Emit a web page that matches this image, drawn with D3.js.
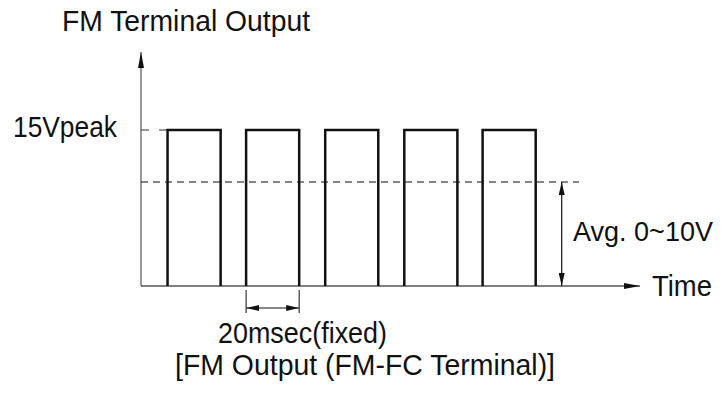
<!DOCTYPE html>
<html>
<head>
<meta charset="utf-8">
<script src="https://cdn.jsdelivr.net/npm/d3@7"></script>
<style>
  body { margin: 0; background: #fff; }
  text { font-family: "Liberation Sans", Arial, sans-serif; font-size: 29px; fill: #111; }
</style>
</head>
<body>
<div id="container-fm"></div>
<script>
// pulse train (time in msec, voltage in V)
let pulseStart = [10, 39.6, 69.4, 99.2, 128.7];
let pulseWidth = 20;
let peakV = 15;
let avgV = 10;
let timeMax = 188;
let voltMax = 22.5;
let avgEnd = 165;
let avgArrowT = 158.5;
let markerFrom = 39.6;
let markerTo = 59.6;

let labelTexts = ["FM Terminal Output", "15Vpeak", "Avg. 0~10V", "Time", "20msec(fixed)", "[FM Output (FM-FC Terminal)]"];

visualizeFM();

function visualizeFM() {
  vis = this;

  vis.W = 721;
  vis.H = 399;
  vis.x0 = 141;
  vis.y0 = 286;

  vis.x = d3.scaleLinear().domain([0, timeMax]).range([vis.x0, 640]);
  vis.y = d3.scaleLinear().domain([0, voltMax]).range([vis.y0, 52]);

  vis.svg = d3.select("#container-fm")
    .append("svg")
    .attr("width", vis.W)
    .attr("height", vis.H);

  //markers
  vis.defs = vis.svg.append("defs");
  vis.defs.append("marker")
    .attr("id", "head")
    .attr("viewBox", "0 0 13 6")
    .attr("refX", 13).attr("refY", 3)
    .attr("markerWidth", 13).attr("markerHeight", 6)
    .attr("markerUnits", "userSpaceOnUse")
    .attr("orient", "auto-start-reverse")
    .append("path").attr("d", "M0,0 L13,3 L0,6 Z").attr("fill", "#111");
  vis.defs.append("marker")
    .attr("id", "headAxis")
    .attr("viewBox", "0 0 16 6")
    .attr("refX", 16).attr("refY", 3)
    .attr("markerWidth", 16).attr("markerHeight", 6)
    .attr("markerUnits", "userSpaceOnUse")
    .attr("orient", "auto")
    .append("path").attr("d", "M0,0 L16,3 L0,6 Z").attr("fill", "#111");

  //axes
  vis.svg.append("line")
    .attr("x1", vis.x(0)).attr("y1", vis.y(0))
    .attr("x2", vis.x(0)).attr("y2", vis.y(voltMax))
    .attr("stroke", "#777").attr("stroke-width", 1.5)
    .attr("marker-end", "url(#headAxis)");
  vis.svg.append("line")
    .attr("x1", vis.x(0)).attr("y1", vis.y(0))
    .attr("x2", vis.x(timeMax)).attr("y2", vis.y(0))
    .attr("stroke", "#555").attr("stroke-width", 1.5)
    .attr("marker-end", "url(#headAxis)");

  //reference lines
  vis.svg.append("line")
    .attr("x1", vis.x(0)).attr("x2", vis.x(pulseStart[0]))
    .attr("y1", vis.y(peakV)).attr("y2", vis.y(peakV))
    .attr("stroke", "#333").attr("stroke-width", 1)
    .attr("stroke-dasharray", "8,10");
  vis.svg.append("line")
    .attr("x1", vis.x(0)).attr("x2", vis.x(avgEnd))
    .attr("y1", vis.y(avgV)).attr("y2", vis.y(avgV))
    .attr("stroke", "#111").attr("stroke-width", 1)
    .attr("stroke-dasharray", "7,5");

  //pulses
  vis.pulse = d3.line().x(d => vis.x(d[0])).y(d => vis.y(d[1]));
  vis.svg.selectAll(".pulse")
    .data(pulseStart)
    .enter()
    .append("path")
    .attr("class", "pulse")
    .attr("d", d => vis.pulse([[d, 0], [d, peakV], [d + pulseWidth, peakV], [d + pulseWidth, 0]]))
    .attr("fill", "none")
    .attr("stroke", "#111")
    .attr("stroke-width", 2.5);

  //avg arrow
  vis.svg.append("line")
    .attr("x1", vis.x(avgArrowT)).attr("x2", vis.x(avgArrowT))
    .attr("y1", vis.y(0)).attr("y2", vis.y(avgV))
    .attr("stroke", "#111").attr("stroke-width", 1.2)
    .attr("marker-start", "url(#head)")
    .attr("marker-end", "url(#head)");

  //period marker
  vis.svg.selectAll(".tick")
    .data([markerFrom, markerTo])
    .enter()
    .append("line")
    .attr("class", "tick")
    .attr("x1", d => vis.x(d)).attr("x2", d => vis.x(d))
    .attr("y1", vis.y0 + 4).attr("y2", vis.y0 + 27)
    .attr("stroke", "#333").attr("stroke-width", 1.2);
  vis.svg.append("line")
    .attr("x1", vis.x(markerFrom)).attr("x2", vis.x(markerTo))
    .attr("y1", vis.y0 + 22).attr("y2", vis.y0 + 22)
    .attr("stroke", "#111").attr("stroke-width", 1.2)
    .attr("marker-start", "url(#head)")
    .attr("marker-end", "url(#head)");

  //textos: [x, baseline, width, font size]
  vis.labelPos = [[62, 30.5, 248, 29], [13, 137, 104, 29], [573, 240.5, 140, 27.5], [652, 296, 60, 29], [218, 343, 169, 29], [175, 375, 380, 29]];
  vis.svg.selectAll(".label")
    .data(labelTexts)
    .enter()
    .append("text")
    .attr("class", "label")
    .attr("x", (d, i) => vis.labelPos[i][0])
    .attr("y", (d, i) => vis.labelPos[i][1])
    .attr("textLength", (d, i) => vis.labelPos[i][2])
    .attr("lengthAdjust", "spacingAndGlyphs")
    .style("font-size", (d, i) => vis.labelPos[i][3] + "px")
    .text(d => d);
}
</script>
</body>
</html>
